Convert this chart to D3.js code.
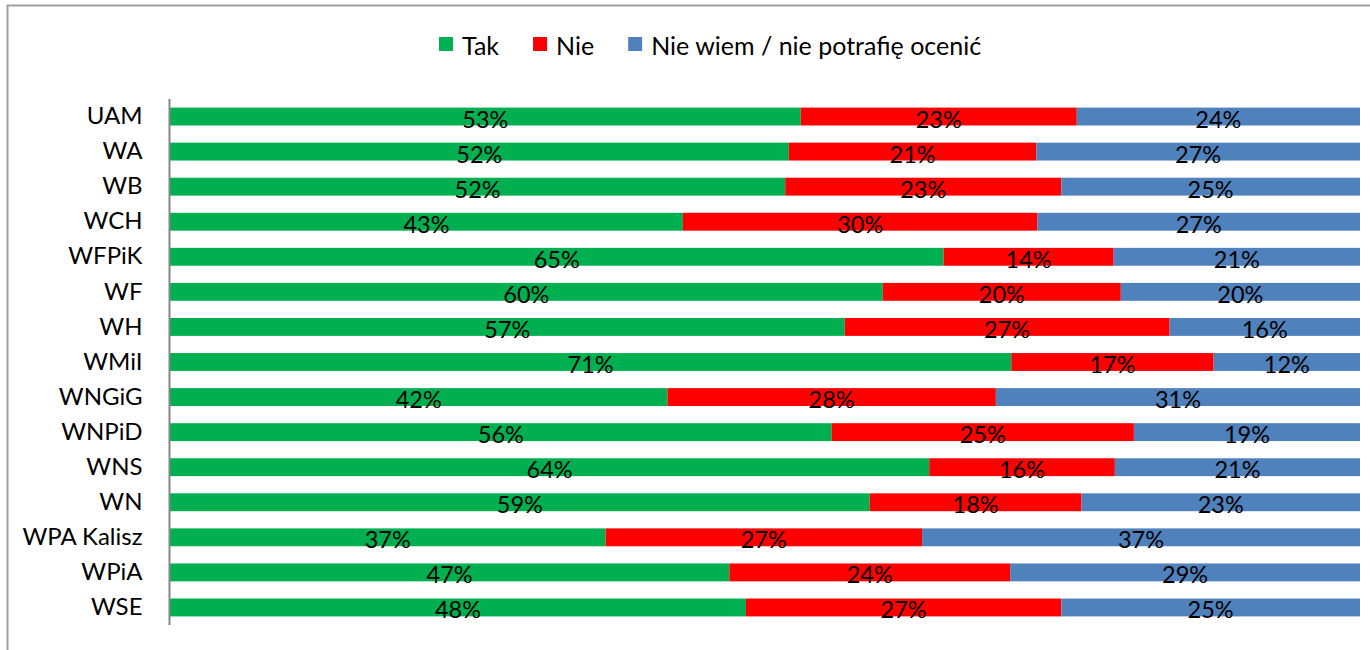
<!DOCTYPE html>
<html><head><meta charset="utf-8">
<script src="https://cdn.jsdelivr.net/npm/d3@7"></script>
<style>body{margin:0;background:#fff}svg{display:block}</style>
</head><body>
<script>
const categories = ["UAM","WA","WB","WCH","WFPiK","WF","WH","WMiI","WNGiG","WNPiD","WNS","WN","WPA Kalisz","WPiA","WSE"];
const tak = [53.0,52.0,51.7,43.1,65.0,59.9,56.7,70.7,41.8,55.6,63.8,58.8,36.6,47.0,48.4];
const nie = [23.2,20.8,23.2,29.8,14.3,20.0,27.3,17.0,27.6,25.4,15.6,17.8,26.6,23.6,26.5];
const nieWiem = [23.8,27.2,25.1,27.1,20.7,20.1,16.0,12.3,30.6,19.0,20.6,23.4,36.8,29.4,25.1];
const seriesNames = ["Tak","Nie","Nie wiem / nie potrafię ocenić"];
const colors = ["#00B050","#FF0000","#4F81BD"];

const W=1370,H=650;
const font = "Lato, 'Open Sans', sans-serif";
const svg = d3.select("body").append("svg").attr("width",W).attr("height",H);

// outer border
svg.append("rect").attr("x",7.5).attr("y",5.5).attr("width",W).attr("height",H)
  .attr("fill","none").attr("stroke","#a0a0a0").attr("stroke-width",2);

const rows = categories.map((c,i)=>({cat:c,Tak:tak[i],Nie:nie[i],"Nie wiem / nie potrafię ocenić":nieWiem[i]}));
const stack = d3.stack().keys(seriesNames)(rows);

const x = d3.scaleLinear().domain([0,100]).range([170,1360]);
const y = d3.scaleBand().domain(categories).range([99,625]).paddingInner(0.49).paddingOuter(0.245);

const g = svg.append("g");
stack.forEach((s,si)=>{
  g.selectAll(null).data(s).join("rect")
    .attr("x",d=>x(d[0])).attr("width",d=>x(d[1])-x(d[0]))
    .attr("y",d=>y(d.data.cat)).attr("height",y.bandwidth())
    .attr("fill",colors[si]);
  g.selectAll(null).data(s).join("text")
    .attr("x",d=>(x(d[0])+x(d[1]))/2)
    .attr("y",d=>y(d.data.cat)+y.bandwidth()/2+2)
    .attr("text-anchor","middle").attr("dominant-baseline","central")
    .attr("font-family",font).attr("font-size",23.5).attr("fill","#000")
    .text(d=>Math.round(d[1]-d[0])+"%");
});

// y axis
const ax = svg.append("g").attr("transform","translate(169.5,0)")
  .call(d3.axisLeft(y).tickSize(0).tickPadding(27));
ax.select(".domain").attr("stroke","#868686").attr("stroke-width",2).attr("d","M0,99V625");
ax.selectAll("text").attr("font-family",font).attr("font-size",24).attr("fill","#000");

// legend
const lg = svg.append("g").attr("transform","translate(439,0)");
let lx = 0;
seriesNames.forEach((n,i)=>{
  lg.append("rect").attr("x",lx).attr("y",37).attr("width",14).attr("height",14).attr("fill",colors[i]);
  const t = lg.append("text").attr("x",lx+23).attr("y",45).attr("dominant-baseline","central")
    .attr("font-family",font).attr("font-size",25).attr("fill","#000").text(n);
  lx = lx+23+t.node().getComputedTextLength()+34;
});
</script>
</body></html>
